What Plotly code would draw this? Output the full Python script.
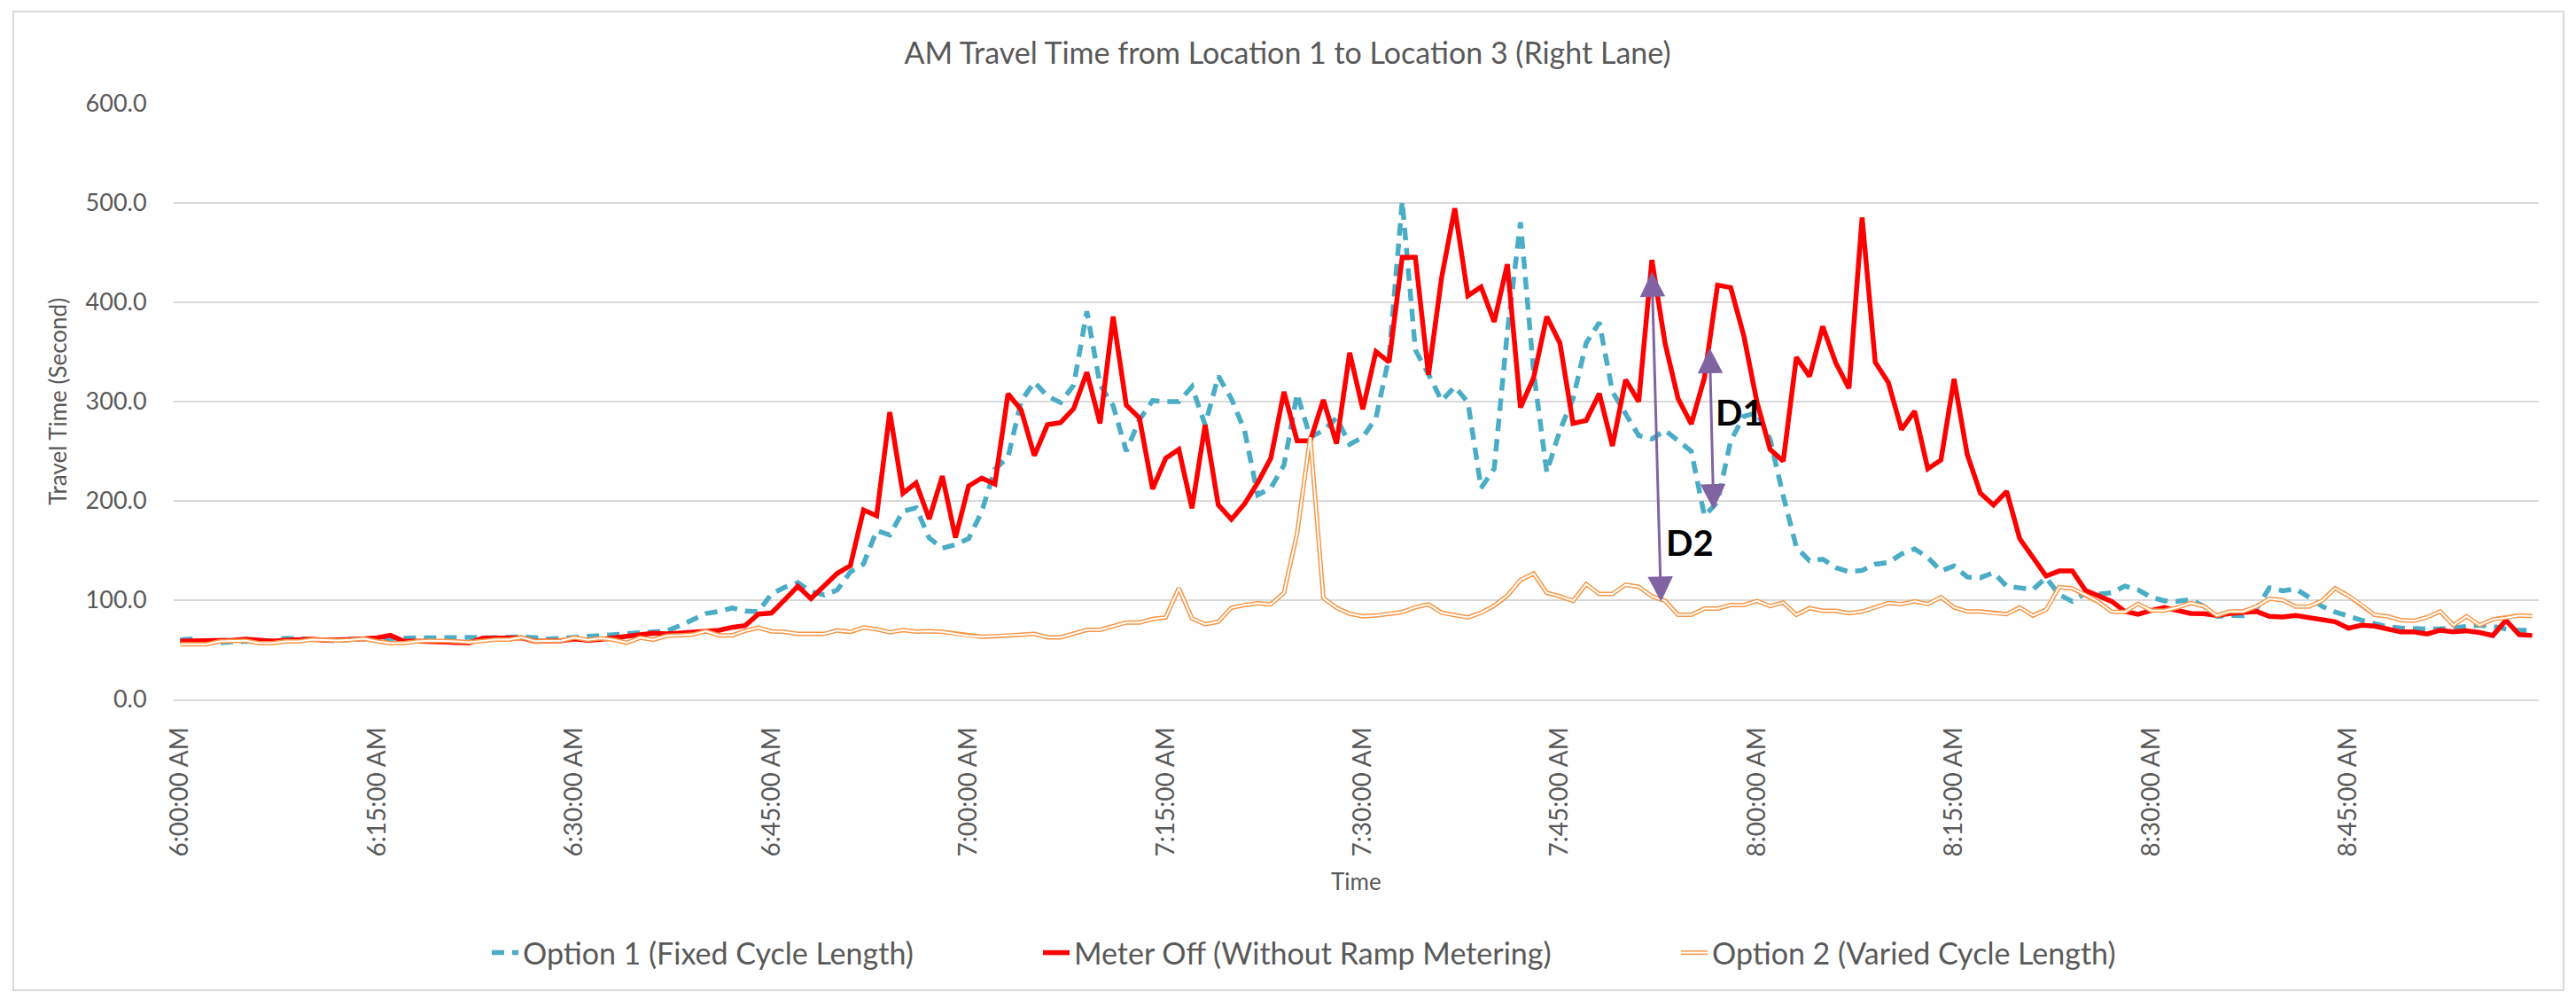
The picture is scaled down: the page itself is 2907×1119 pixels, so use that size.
import plotly.graph_objects as go

# ---- categories (one per minute, 6:00 AM .. 8:59 AM) ----
times = [f"{6 + m // 60}:{m % 60:02d}:00 AM" for m in range(180)]
tick_labels = times[::15]

# ---- series values (seconds) ----
option1 = [60, 61, 58, 57, 58, 59, 59, 59, 61.7, 61, 60, 59.5, 59, 60.5, 61, 61, 62, 62, 62, 62,
           62.5, 62.5, 62.5, 62, 62.5, 63, 63, 62.2, 61, 61.6, 62.5, 63.4, 64.6, 64.9, 65.5, 66.1, 67, 69, 74.1, 80,
           86.5, 88.7, 92.2, 89, 88.4, 106.3, 113, 117.5, 108.8, 105.2, 110.2, 128.5, 136.6, 170, 165.6, 189.4, 193, 162.6, 152.2, 156,
           161.9, 189.2, 232, 244, 300.4, 319.7, 305.5, 299, 316.7, 390.9, 317, 295.8, 250, 281.7, 301, 300, 300, 315, 276.4, 325.7,
           302.8, 271, 206, 213, 236, 308, 264, 271, 283.5, 257, 264, 283.5, 345, 501.8, 352, 327.5, 301, 315, 299.3, 213,
           232.4, 370, 480.6, 330, 228.9, 271, 302.8, 359, 379.6, 309.9, 288.7, 265.8, 262.3, 271, 260.6, 250, 184.9, 199, 260.6, 285.2,
           288.7, 262, 205, 153.3, 139.6, 141.3, 132.8, 128.7, 130, 136.2, 137.9, 146.5, 151.6, 143, 129.4, 134.5, 123.3, 122.6, 127.7, 114.1,
           112.4, 110.7, 122.6, 105.6, 98.8, 107, 106, 107.4, 114.2, 110.4, 103, 99.4, 98.8, 100.6, 94, 83.7, 84.6, 84.3, 91, 112.5,
           109.5, 111.3, 103, 94, 88.1, 83.7, 79.8, 76.3, 73.3, 71.8, 70.9, 70.9, 70.9, 71.8, 73.3, 74.8, 73.9, 70.9, 69.7, 69.7]

meter_off = [58.7, 58.7, 58.7, 58.7, 59.6, 60.8, 59.7, 58.7, 59.6, 60.2, 60.8, 59.6, 59.6, 60.5, 61.1, 62, 64.6, 58.7, 58.7, 58,
             57.5, 57, 57, 61.7, 62, 62.3, 62, 58.6, 59, 59.2, 61, 59.5, 60.4, 62, 63.7, 65.5, 66.7, 66, 66.7, 67.9,
             69.3, 69.6, 72.6, 74.4, 86, 87, 100.3, 114, 101.5, 113.7, 127, 134.8, 190.8, 185, 289.4, 207.6, 218, 181.8, 225, 163,
             215, 223, 217, 307.8, 291.5, 245.5, 276.7, 278.8, 293, 329.5, 278, 385.6, 296.5, 283.5, 212, 243, 251.8, 192.6, 276.4, 196,
             181.3, 197, 218.3, 243, 309.9, 260.6, 260.6, 301.8, 257.7, 349.3, 292.3, 350.4, 339.8, 445.4, 445.4, 327, 425, 494.7, 406.7, 415.5,
             380.3, 438.4, 294, 324, 385.6, 359, 278, 281, 308, 255.3, 322, 300, 442.6, 359, 302.8, 277.5, 324, 417.3, 414.8, 366.2,
             299.3, 251.8, 240, 344.7, 325.3, 375.7, 338.9, 313.4, 485.4, 339.6, 319.1, 271.8, 290.2, 232.3, 241.1, 322.9, 246.9, 207.8, 195.8, 209.5,
             161.8, 143.1, 124.3, 129.4, 129.4, 109.7, 103.9, 98.8, 88.7, 85.8, 89.6, 92.6, 89.6, 86.6, 86.4, 84.6, 86.6, 88, 88.7, 83.7,
             83.1, 84.6, 82.8, 80.4, 78.3, 71.8, 74.8, 73.9, 70.9, 68, 68, 65.9, 69.7, 68, 69.1, 67.4, 64.4, 79.8, 65.3, 64.4]

option2 = [55.6, 55.6, 55.6, 58.5, 59.1, 59.1, 56.7, 56.7, 58.5, 58.5, 60.3, 59.7, 59.4, 60, 61.2, 58.5, 56.7, 56.7, 58.5, 59.1,
           59.1, 58.5, 57.6, 59.1, 60.3, 60.3, 62.5, 58.6, 58.9, 59.2, 62.2, 60.1, 61.6, 60.1, 57.1, 62.2, 60.1, 64, 64.6, 65.3,
           68.8, 64.6, 64.6, 69.1, 72.3, 68.6, 68, 66, 66, 66, 69.5, 68, 72.5, 70.8, 67.6, 69.8, 68.3, 68.8, 68, 66.1,
           64, 63.1, 63.7, 64, 65.2, 66.1, 62.5, 62.5, 66.1, 70, 70.2, 73.9, 77.5, 77.5, 81, 82.7, 112, 81.7, 75.7, 78.2,
           92.3, 95, 96.8, 95.8, 107.4, 167.3, 264.1, 102.1, 92.3, 86.3, 83.8, 84.5, 86.3, 88, 92.8, 95.8, 87.3, 85.2, 82.7, 87.3,
           94.4, 104.6, 120.4, 126.8, 107.4, 103.9, 99.3, 116.2, 106.3, 106.3, 115.5, 113.4, 103.9, 99.3, 85.2, 85.2, 91.5, 91.5, 95.1, 95.1,
           99.3, 94, 97.5, 85.2, 92, 89.3, 89.3, 86.9, 88.6, 92.7, 97.1, 96.1, 98.8, 96.1, 102.9, 92.7, 88.6, 88.6, 86.9, 85.9,
           92.7, 84.5, 90.3, 113.1, 111.8, 105.5, 98, 88.4, 88.1, 96.4, 89.6, 89.6, 92.6, 97, 94, 84.6, 88.7, 88.7, 93.5, 101.5,
           100, 93.5, 93.5, 99.4, 111.9, 104.5, 95.5, 85.2, 83.7, 79.8, 79.2, 82.8, 88.7, 74.8, 83.7, 74.8, 80.7, 82.2, 84.6, 84]

y_ticks = [0, 100, 200, 300, 400, 500, 600]

# ---- annotation (D1 / D2 difference arrows), in data units ----
d2_top = (112.0, 431)
d2_bottom = (112.7, 97)
d1_top = (116.4, 354)
d1_bottom = (116.7, 190)
d1_label = (118.7, 289)
d2_label = (114.9, 158)

FONT = "Lato"
GREY = "#595959"

# pixel -> paper helpers for the fixed layout
L, R, T, B, W, H = 196, 42, 117, 330, 2907, 1119
PW, PH = W - L - R, H - T - B
def px(xp):
    return (xp - L) / PW
def py(yp):
    return (H - B - yp) / PH

fig = go.Figure()
fig.add_trace(go.Scatter(x=times, y=option1, mode="lines", name="Option 1 (Fixed Cycle Length)",
                         line=dict(color="#4BACC6", width=5.5, dash="14px,9px"), legend="legend"))
fig.add_trace(go.Scatter(x=times, y=meter_off, mode="lines", name="Meter Off (Without Ramp Metering)",
                         line=dict(color="#FF0000", width=5.5), legend="legend2"))
fig.add_trace(go.Scatter(x=times, y=option2, mode="lines", name="Option 2 (Varied Cycle Length)",
                         line=dict(color="#F79646", width=5), legend="legend3"))
# inner white stroke of the double ("compound") orange line; its legend symbol overlays the orange one
fig.add_trace(go.Scatter(x=times, y=option2, mode="lines", name=" ", hoverinfo="skip",
                         line=dict(color="#FFFFFF", width=2), legend="legend4"))

for top, bot in [(d2_top, d2_bottom), (d1_top, d1_bottom)]:
    fig.add_annotation(x=top[0], y=top[1], ax=bot[0], ay=bot[1], xref="x", yref="y", axref="x", ayref="y",
                       text="", showarrow=True, arrowside="end+start", arrowhead=2, startarrowhead=2,
                       arrowsize=1.9, startarrowsize=1.9, arrowwidth=3, arrowcolor="#8064A2",
                       standoff=0, startstandoff=0)
for pos, txt in [(d1_label, "D1"), (d2_label, "D2")]:
    fig.add_annotation(x=pos[0], y=pos[1], xref="x", yref="y", text=f"<b>{txt}</b>", showarrow=False,
                       font=dict(family=FONT, size=40, color="#000000"))

# axis titles
fig.add_annotation(x=px(65), y=0.5, xref="paper", yref="paper", text="Travel Time (Second)", textangle=-90,
                   showarrow=False, xanchor="center", yanchor="middle", font=dict(family=FONT, size=26, color=GREY))
fig.add_annotation(x=0.5, y=py(994), xref="paper", yref="paper", text="Time",
                   showarrow=False, xanchor="center", yanchor="middle", font=dict(family=FONT, size=26, color=GREY))

# chart-area border
fig.add_shape(type="rect", xref="paper", yref="paper", x0=px(15), x1=px(2893), y0=py(1117), y1=py(13),
              line=dict(color="#D9D9D9", width=2), fillcolor="rgba(0,0,0,0)", layer="below")

leg_common = dict(orientation="h", xanchor="left", y=py(1075), yanchor="middle",
                  font=dict(size=34, color=GREY, family=FONT), bgcolor="rgba(0,0,0,0)")
fig.update_layout(
    width=W, height=H,
    margin=dict(l=L, r=R, t=T, b=B),
    paper_bgcolor="white", plot_bgcolor="white",
    font=dict(family=FONT, color=GREY),
    title=dict(text="AM Travel Time from Location 1 to Location 3 (Right Lane)", x=1453 / W, xanchor="center",
               y=1 - 60 / H, yanchor="middle", font=dict(size=34, color=GREY, family=FONT)),
    showlegend=True,
    legend=dict(x=px(550), **leg_common),
    legend2=dict(x=px(1172), **leg_common),
    legend3=dict(x=px(1892), **leg_common),
    legend4=dict(x=px(1892), **leg_common),
)
fig.update_xaxes(type="category", range=[-0.5, 179.5], tickmode="array", tickvals=tick_labels,
                 ticktext=tick_labels, tickangle=-90, tickfont=dict(size=28, color=GREY, family=FONT),
                 showgrid=False, showline=True, linecolor="#D9D9D9", linewidth=2, zeroline=False,
                 ticks="outside", ticklen=18, tickcolor="rgba(0,0,0,0)")
fig.update_yaxes(range=[0, 600], tickmode="array", tickvals=y_ticks, tickformat=".1f",
                 tickfont=dict(size=27, color=GREY, family=FONT), showgrid=True, gridcolor="#D9D9D9", gridwidth=2,
                 zeroline=False, showline=False, ticks="outside", ticklen=24, tickcolor="rgba(0,0,0,0)")

fig.write_html("out.html", config={"displayModeBar": False},
               post_script="document.body.style.margin='0';")
